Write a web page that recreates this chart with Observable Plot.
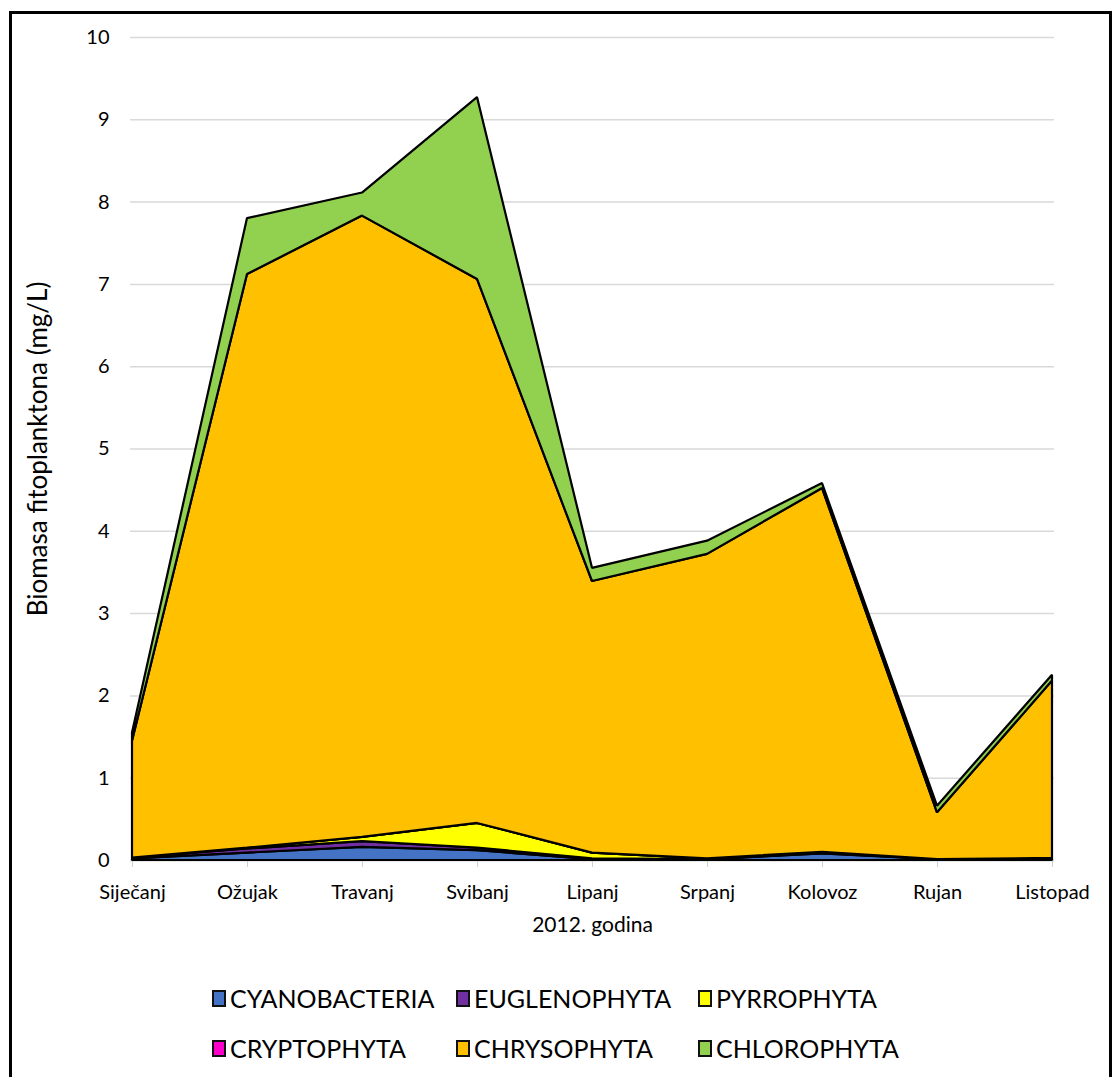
<!DOCTYPE html>
<html>
<head>
<meta charset="utf-8">
<script src="https://cdn.jsdelivr.net/npm/d3@7"></script>
<script src="https://cdn.jsdelivr.net/npm/@observablehq/plot@0.6"></script>
<style>
  body { margin: 0; background: #fff; font-family: Lato, "Open Sans", sans-serif; }
  #wrap { position: relative; width: 1115px; height: 1077px; overflow: hidden; }
  #frame { position: absolute; left: 9px; top: 11px; width: 1103px; height: 1080px; border: 3px solid #000; box-sizing: border-box; }
  #chart { position: absolute; left: 0; top: 0; }
  #legend { position: absolute; left: 0; top: 980px; width: 1115px; }
  .item { position: absolute; display: flex; align-items: center; font-size: 25px; line-height: 30px; color: #000; white-space: nowrap; }
  .sw { width: 10px; height: 13px; border: 2px solid #111; margin-right: 4px; box-sizing: content-box; }
</style>
</head>
<body>
<div id="wrap">
  <div id="frame"></div>
  <div id="chart"></div>
  <div id="legend"></div>
</div>
<script>
const months = ["Siječanj", "Ožujak", "Travanj", "Svibanj", "Lipanj", "Srpanj", "Kolovoz", "Rujan", "Listopad"];
const seriesNames = ["CYANOBACTERIA", "EUGLENOPHYTA", "PYRROPHYTA", "CRYPTOPHYTA", "CHRYSOPHYTA", "CHLOROPHYTA"];
const seriesColors = ["#4472C4", "#7030A0", "#FFFF00", "#FF00CC", "#FFC000", "#92D050"];
const cyanobacteria = [0.02, 0.09, 0.16, 0.12, 0.01, 0.01, 0.08, 0.01, 0.02];
const euglenophyta  = [0.01, 0.05, 0.07, 0.03, 0.01, 0.00, 0.01, 0.00, 0.005];
const pyrrophyta    = [0.00, 0.01, 0.05, 0.30, 0.07, 0.01, 0.01, 0.00, 0.00];
const cryptophyta   = [0.00, 0.00, 0.00, 0.00, 0.00, 0.00, 0.00, 0.00, 0.00];
const chrysophyta   = [1.42, 6.97, 7.55, 6.61, 3.30, 3.70, 4.42, 0.57, 2.155];
const chlorophyta   = [0.10, 0.68, 0.28, 2.21, 0.16, 0.16, 0.06, 0.08, 0.07];
const yTicks = [0, 1, 2, 3, 4, 5, 6, 7, 8, 9, 10];

const seriesValues = [cyanobacteria, euglenophyta, pyrrophyta, cryptophyta, chrysophyta, chlorophyta];
const data = [];
seriesNames.forEach((s, i) => months.forEach((m, j) => data.push({month: m, series: s, value: seriesValues[i][j]})));

const chart = Plot.plot({
  width: 1115,
  height: 960,
  marginLeft: 130,
  marginRight: 61,
  marginTop: 37,
  marginBottom: 100,
  style: {fontFamily: "Lato, 'Open Sans', sans-serif", fontSize: "20px", color: "#000", background: "transparent", overflow: "visible"},
  x: {type: "point", domain: months, padding: 0, label: null},
  y: {domain: [0, 10], ticks: yTicks, label: null},
  color: {domain: seriesNames, range: seriesColors},
  marks: [
    Plot.gridY(yTicks, {stroke: "#d9d9d9", strokeOpacity: 1, strokeWidth: 1.5}),
    Plot.ruleY([0], {stroke: "#d9d9d9", strokeWidth: 2}),
    Plot.axisY({ticks: yTicks, tickSize: 0, tickPadding: 21, fontSize: 20, label: null}),
    Plot.axisX({tickSize: 7, tickPadding: 17, stroke: "#d0d0d0", fontSize: 20, label: null}),
    Plot.areaY(data, Plot.stackY({x: "month", y: "value", z: "series", order: seriesNames, fill: "series", stroke: "#000", strokeWidth: 2.2, strokeLinejoin: "miter"})),
    Plot.text(["2012. godina"], {frameAnchor: "bottom", dy: 71, fontSize: 21, fill: "#000"}),
    Plot.text(["Biomasa fitoplanktona (mg/L)"], {frameAnchor: "left", textAnchor: "middle", dx: -92, rotate: -90, fontSize: 26, fill: "#000"})
  ]
});
document.getElementById("chart").appendChild(chart);

const legend = document.getElementById("legend");
const cols = [212, 456, 698];
seriesNames.forEach((s, i) => {
  const d = document.createElement("div");
  d.className = "item";
  d.style.left = cols[i % 3] + "px";
  d.style.top = (i < 3 ? 3 : 53) + "px";
  const sw = document.createElement("span");
  sw.className = "sw";
  sw.style.background = seriesColors[i];
  d.appendChild(sw);
  d.appendChild(document.createTextNode(s));
  legend.appendChild(d);
});
</script>
</body>
</html>
